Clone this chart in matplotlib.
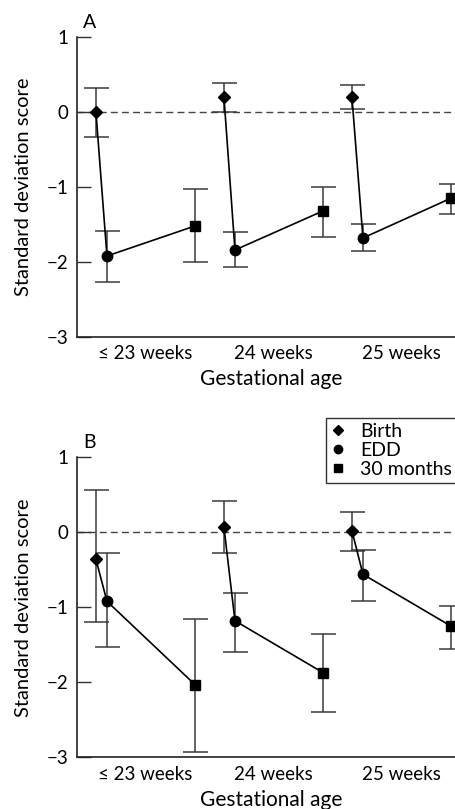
import matplotlib
matplotlib.use("Agg")
import matplotlib.pyplot as plt
import numpy as np

plt.rcParams['font.family'] = ['Lato', 'DejaVu Sans']

categories = ["\u2264 23 weeks", "24 weeks", "25 weeks"]
series = ["Birth", "EDD", "30 months"]

# Panel A: mean, lower, upper for each series and group
A_mean = {"Birth": [0.0, 0.20, 0.20], "EDD": [-1.92, -1.84, -1.68], "30 months": [-1.52, -1.32, -1.15]}
A_low = {"Birth": [-0.33, 0.0, 0.04], "EDD": [-2.27, -2.07, -1.85], "30 months": [-2.0, -1.66, -1.36]}
A_high = {"Birth": [0.32, 0.39, 0.36], "EDD": [-1.58, -1.60, -1.49], "30 months": [-1.03, -1.0, -0.96]}

B_mean = {"Birth": [-0.36, 0.07, 0.02], "EDD": [-0.92, -1.18, -0.56], "30 months": [-2.03, -1.87, -1.25]}
B_low = {"Birth": [-1.2, -0.28, -0.25], "EDD": [-1.53, -1.59, -0.92], "30 months": [-2.93, -2.39, -1.55]}
B_high = {"Birth": [0.56, 0.42, 0.27], "EDD": [-0.28, -0.81, -0.23], "30 months": [-1.16, -1.35, -0.98]}

offsets = {"Birth": -0.383, "EDD": -0.297, "30 months": 0.39}
markers = {"Birth": "D", "EDD": "o", "30 months": "s"}
msizes = {"Birth": 6.0, "EDD": 7.5, "30 months": 6.5}
lmsizes = {"Birth": 5.0, "EDD": 6.0, "30 months": 5.5}

W, H = 456, 809
fig = plt.figure(figsize=(W / 100, H / 100), dpi=100)

def px_axes(top_px, bottom_px):
    left = 77 / W
    width = (2.5 + 0.531) * 128 / W
    return [left, 1 - bottom_px / H, width, (bottom_px - top_px) / H]

def draw(ax, mean, low, high, label):
    g = np.arange(len(categories))
    ax.axhline(0, color="#444444", lw=1.0, ls=(0, (5, 3)), zorder=1)
    for gi in g:
        xs = [gi + offsets[s] for s in series]
        ys = [mean[s][gi] for s in series]
        ax.plot(xs, ys, color="black", lw=1.2, zorder=3)
    for s in series:
        x = g + offsets[s]
        m = np.array(mean[s]); lo = np.array(low[s]); hi = np.array(high[s])
        ax.errorbar(x, m, yerr=[m - lo, hi - m], fmt="none", ecolor="#3a3a3a",
                    elinewidth=1.1, capsize=9, capthick=1.1, zorder=2)
        ax.plot(x, m, ls="none", marker=markers[s], ms=msizes[s], color="black",
                zorder=4, clip_on=False)
    ax.set_xlim(-0.531, 2.5)
    ax.set_ylim(-3, 1)
    ax.set_yticks([-3, -2, -1, 0, 1])
    ax.set_yticklabels(["\u22123", "\u22122", "\u22121", "0", "1"])
    ax.set_xticks(g)
    ax.set_xticklabels(categories)
    ax.tick_params(axis="y", direction="in", length=10, width=1.0, labelsize=13.5, pad=6, color="#333333")
    ax.tick_params(axis="x", length=0, labelsize=13.5, pad=6)
    for sp in ["top", "right"]:
        ax.spines[sp].set_visible(False)
    for sp in ["left", "bottom"]:
        ax.spines[sp].set_linewidth(1.2)
        ax.spines[sp].set_color("#222222")
    ax.set_xlabel("Gestational age", fontsize=15, labelpad=5)
    ax.set_ylabel("Standard deviation score", fontsize=14.5, labelpad=11)
    ax.text(0.015, 1.02, label, transform=ax.transAxes, fontsize=14, ha="left", va="bottom")

axA = fig.add_axes(px_axes(37, 337))
draw(axA, A_mean, A_low, A_high, "A")

axB = fig.add_axes(px_axes(457.3, 757.3))
draw(axB, B_mean, B_low, B_high, "B")

handles = [plt.Line2D([], [], ls="none", marker=markers[s], ms=lmsizes[s], color="black") for s in series]
leg = axB.legend(handles, series, loc="upper left", bbox_to_anchor=(326 / W, 1 - 418 / H),
                 bbox_transform=fig.transFigure, frameon=True, fancybox=False,
                 fontsize=14, handlelength=0.7, handletextpad=0.8, borderpad=0.25,
                 labelspacing=0.1, borderaxespad=0)
leg.get_frame().set_edgecolor("black")
leg.get_frame().set_linewidth(1.0)

fig.savefig("out.png", dpi=100)
